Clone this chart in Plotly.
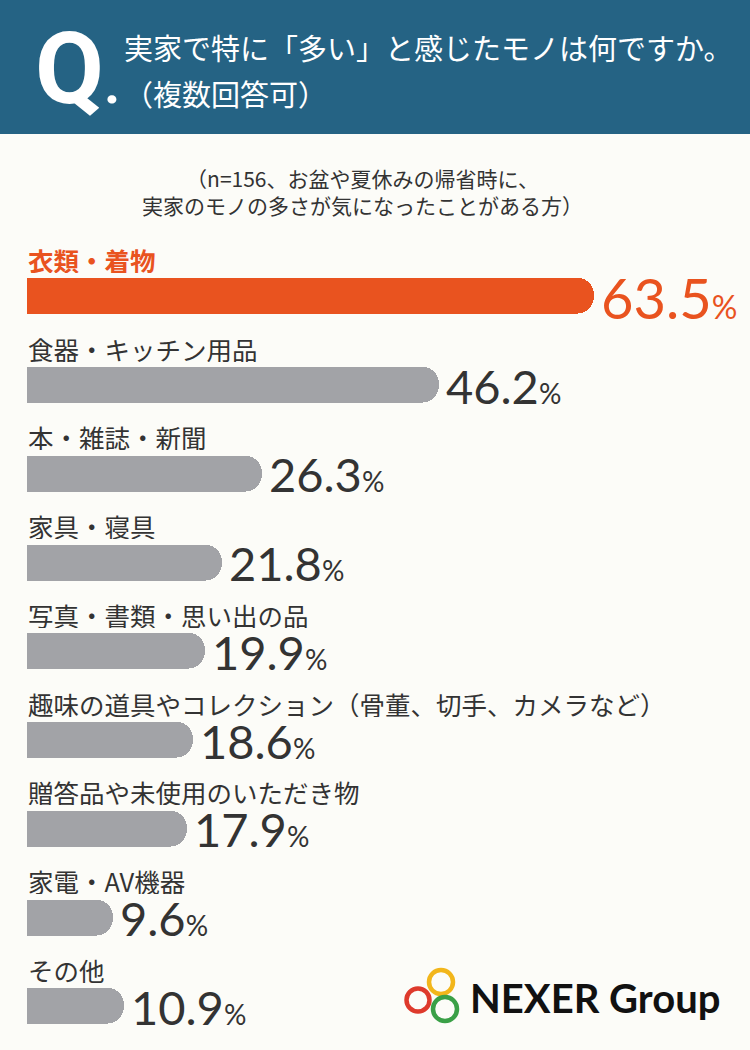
import plotly.graph_objects as go

# data
categories = [
    "衣類・着物",
    "食器・キッチン用品",
    "本・雑誌・新聞",
    "家具・寝具",
    "写真・書類・思い出の品",
    "趣味の道具やコレクション（骨董、切手、カメラなど）",
    "贈答品や未使用のいただき物",
    "家電・AV機器",
    "その他",
]
values = [63.5, 46.2, 26.3, 21.8, 19.9, 18.6, 17.9, 9.6, 10.9]

title_q = "Q."
title_lines = ["実家で特に「多い」と感じたモノは何ですか。", "（複数回答可）"]
subtitle_lines = ["（n=156、お盆や夏休みの帰省時に、", "実家のモノの多さが気になったことがある方）"]
logo_text = "NEXER Group"

W, H = 750, 1050
BG = "#fcfcf8"
HEADER = "#256384"
ORANGE = "#e9531f"
GRAY = "#a2a3a7"
DARK = "#333333"
JP_FONT = "Noto Sans CJK JP"
NUM_FONT = "Lato"


def px(x):
    return x / W


def py(y):
    return 1 - y / H


colors = [ORANGE] + [GRAY] * (len(values) - 1)

fig = go.Figure()
fig.add_trace(
    go.Bar(
        x=values,
        y=categories,
        orientation="h",
        marker=dict(color=colors, cornerradius=17, line=dict(width=0)),
        width=0.405,
        hoverinfo="skip",
    )
)

annotations = []
for i, (cat, val) in enumerate(zip(categories, values)):
    top = i == 0
    col = ORANGE if top else DARK
    # category label above the bar
    annotations.append(dict(
        x=0, y=cat, xref="x", yref="y",
        text=f"<b>{cat}</b>" if top else cat,
        showarrow=False, xanchor="left", yanchor="middle",
        yshift=37, xshift=-1, height=28,
        font=dict(family=JP_FONT, size=25.5, color=col),
    ))
    # value label at the bar end
    big = 56 if top else 47
    small = 32 if top else 28
    annotations.append(dict(
        x=val, y=cat, xref="x", yref="y",
        text=f"{val:.1f}<span style='font-size:{small}px'>%</span>",
        showarrow=False, xanchor="left", yanchor="middle",
        xshift=5, yshift=-1, height=50 if top else 42,
        font=dict(family=NUM_FONT, size=big, color=col),
    ))

# header texts
annotations.append(dict(
    x=px(33), y=py(68), xref="paper", yref="paper",
    text="<b>Q</b><b><span style='font-size:56px'>.</span></b>",
    showarrow=False, xanchor="left", yanchor="middle",
    font=dict(family="Roboto", size=100, color="white"),
))
annotations.append(dict(
    x=px(122), y=py(47), xref="paper", yref="paper",
    text=title_lines[0], showarrow=False, xanchor="left", yanchor="middle",
    font=dict(family=JP_FONT, size=29, color="white"),
))
annotations.append(dict(
    x=px(122), y=py(93), xref="paper", yref="paper",
    text=title_lines[1], showarrow=False, xanchor="left", yanchor="middle",
    font=dict(family=JP_FONT, size=29, color="white"),
))
# subtitle
annotations.append(dict(
    x=px(362), y=py(191), xref="paper", yref="paper",
    text="<br>".join(subtitle_lines), showarrow=False,
    xanchor="center", yanchor="middle", align="center",
    font=dict(family=JP_FONT, size=21, color=DARK),
))
# logo text
annotations.append(dict(
    x=px(468), y=py(998), xref="paper", yref="paper",
    text=f"<b>{logo_text}</b>", showarrow=False,
    xanchor="left", yanchor="middle",
    font=dict(family="Lato", size=40, color="#111111"),
))

shapes = [
    dict(type="rect", xref="paper", yref="paper", x0=0, x1=1, y0=py(134), y1=1,
         fillcolor=HEADER, line=dict(width=0), layer="below"),
]
# logo rings: yellow, red, green
for cx, cy, r, c in [(441, 982, 12, "#f2b61b"), (418, 1000, 11.5, "#de3a2c"),
                     (445, 1009, 12, "#3aa047")]:
    shapes.append(dict(type="circle", xref="paper", yref="paper",
                       x0=px(cx - r), x1=px(cx + r), y0=py(cy + r), y1=py(cy - r),
                       line=dict(color=c, width=4.5), fillcolor="rgba(0,0,0,0)"))

fig.update_layout(
    width=W, height=H,
    margin=dict(l=0, r=0, t=0, b=0),
    paper_bgcolor=BG, plot_bgcolor=BG,
    showlegend=False,
    bargap=0,
    xaxis=dict(domain=[px(27), 1], range=[0, 81], visible=False, fixedrange=True),
    yaxis=dict(domain=[py(1032.6), py(251.6)], range=[8.3, -0.5],
               categoryorder="array", categoryarray=categories,
               visible=False, fixedrange=True),
    annotations=annotations,
    shapes=shapes,
)

# drop the default page margin so the figure sits flush in the window
fig.write_html("out.html", config={"displayModeBar": False},
               post_script="document.body.style.margin='0';")
